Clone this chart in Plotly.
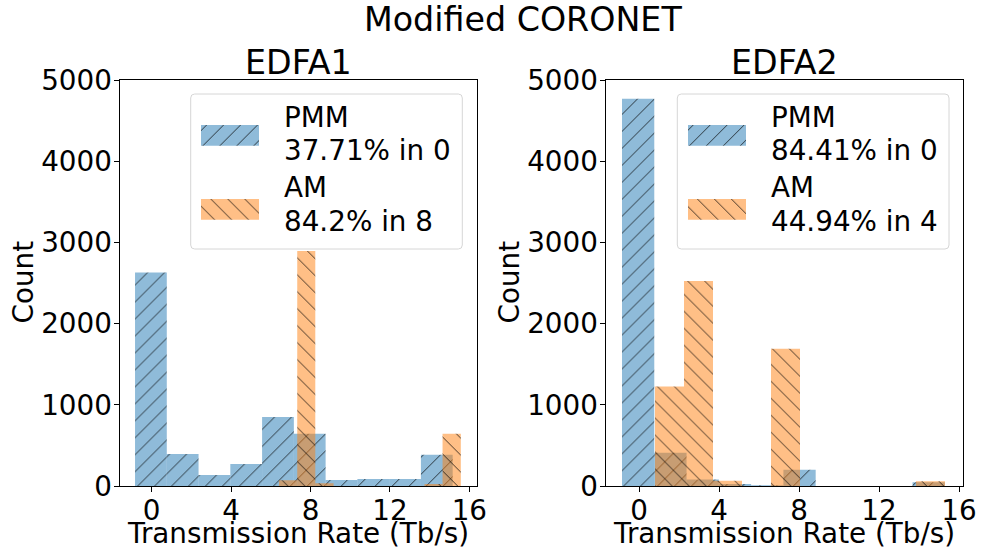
import plotly.graph_objects as go

# ---- data: histogram bin edges and counts per panel ----
edfa1_pmm_edges = [-0.84, 0.76, 2.36, 3.96, 5.56, 7.16, 8.76, 10.36, 11.96, 13.56, 15.16]
edfa1_pmm_counts = [2630, 395, 135, 270, 850, 645, 75, 85, 85, 385]
edfa1_am_edges = [6.41, 7.33, 8.24, 9.16, 10.07, 10.99, 11.91, 12.82, 13.74, 14.65, 15.57]
edfa1_am_counts = [70, 4770, 35, 0, 0, 0, 0, 0, 25, 645]

edfa2_pmm_edges = [-0.85, 0.764, 2.378, 3.992, 5.606, 7.22, 8.834, 10.448, 12.062, 13.676, 15.29]
edfa2_pmm_counts = [4770, 410, 80, 25, 10, 200, 0, 0, 0, 45]
edfa2_am_edges = [0.8, 2.25, 3.7, 5.15, 6.6, 8.05, 9.5, 10.95, 12.4, 13.85, 15.3]
edfa2_am_counts = [1225, 2525, 65, 0, 1690, 0, 0, 0, 0, 60]

panel_titles = ["EDFA1", "EDFA2"]
legend_labels = [
    [("PMM", "37.71% in 0"), ("AM", "84.2% in 8")],
    [("PMM", "84.41% in 0"), ("AM", "44.94% in 4")],
]
x_ticks = [0, 4, 8, 12, 16]
y_ticks = [0, 1000, 2000, 3000, 4000, 5000]
suptitle = "Modified CORONET"
x_label = "Transmission Rate (Tb/s)"
y_label = "Count"

# ---- styling ----
W, H = 981, 554
FONT = "DejaVu Sans"
FS = 27.8
TITLE_FS = 33.3
BLUE = "rgba(31,119,180,0.5)"
ORANGE = "rgba(255,127,14,0.5)"
HATCH_SIZE = 12
HATCH_SOLIDITY = 0.08


def px(x):
    return x / W


def py(y):
    return 1 - y / H


def hatch(color, shape):
    return dict(color=color, line=dict(width=0),
                pattern=dict(shape=shape, size=HATCH_SIZE, solidity=HATCH_SOLIDITY,
                             fgcolor="black", fgopacity=0.75, bgcolor=color,
                             fillmode="replace"))


def hist_bar(edges, counts, color, shape, xa, ya):
    centers = [(a + b) / 2 for a, b in zip(edges[:-1], edges[1:])]
    widths = [b - a for a, b in zip(edges[:-1], edges[1:])]
    return go.Bar(x=centers, y=counts, width=widths, xaxis=xa, yaxis=ya,
                  showlegend=False, hoverinfo="skip", marker=hatch(color, shape))


fig = go.Figure()
fig.add_trace(hist_bar(edfa1_pmm_edges, edfa1_pmm_counts, BLUE, "/", "x", "y"))
fig.add_trace(hist_bar(edfa1_am_edges, edfa1_am_counts, ORANGE, "\\", "x", "y"))
fig.add_trace(hist_bar(edfa2_pmm_edges, edfa2_pmm_counts, BLUE, "/", "x2", "y2"))
fig.add_trace(hist_bar(edfa2_am_edges, edfa2_am_counts, ORANGE, "\\", "x2", "y2"))

# axes frames (pixel geometry of each panel)
panels = [
    dict(left=119.5, right=476.5, xrange=[-1.622, 16.36]),
    dict(left=605.5, right=962.5, xrange=[-1.675, 16.175]),
]
top, bottom = 80, 486
axis_common = dict(showline=True, linecolor="black", linewidth=1, mirror=True,
                   ticks="outside", ticklen=5, tickwidth=1, tickcolor="black",
                   showgrid=False, zeroline=False, automargin=False,
                   tickfont=dict(family=FONT, size=FS, color="black"))
layout = dict(
    width=W, height=H, autosize=False,
    margin=dict(l=0, r=0, t=0, b=0, pad=0, autoexpand=False),
    plot_bgcolor="white", paper_bgcolor="white", barmode="overlay",
    showlegend=False, font=dict(family=FONT, color="black"),
)
for i, p in enumerate(panels):
    sx = "" if i == 0 else str(i + 1)
    layout["xaxis" + sx] = dict(axis_common, domain=[px(p["left"]), px(p["right"])],
                                range=p["xrange"], tickvals=x_ticks, anchor="y" + sx,
                                ticklabelstandoff=-5)
    layout["yaxis" + sx] = dict(axis_common, domain=[py(bottom), py(top)],
                                range=[0, 5002], tickvals=y_ticks, anchor="x" + sx,
                                ticklabelstandoff=-4)

annotations = []
shapes = []


def text(x, y, s, size=FS, xanchor="center", angle=0):
    annotations.append(dict(x=px(x), y=py(y), xref="paper", yref="paper", text=s,
                            showarrow=False, xanchor=xanchor, yanchor="middle",
                            textangle=angle, font=dict(family=FONT, size=size, color="black")))


text(523, 20, suptitle, size=TITLE_FS)
for i, p in enumerate(panels):
    cx = (p["left"] + p["right"]) / 2
    text(cx, 62, panel_titles[i], size=TITLE_FS)
    text(cx, 533, x_label)
    text(p["left"] - 97, 282, y_label, angle=-90)

# legend boxes drawn on their own small overlay axes (1 unit = 1 px)
legend_boxes = [
    dict(x0=190.7, x1=462.3, hx=201, text_x=282.3),
    dict(x0=677.3, x1=949.0, hx=688, text_x=769.0),
]
box_top, box_bottom = 94, 249
pad = 2
handle_w, handle_h = 58, 20.7
handle_tops = [125, 199]
line_centers = [(117, 150), (187.5, 221.5)]
for i, b in enumerate(legend_boxes):
    n = str(i + 3)
    bw = b["x1"] - b["x0"] + 2 * pad
    bh = box_bottom - box_top + 2 * pad
    layout["xaxis" + n] = dict(domain=[px(b["x0"] - pad), px(b["x1"] + pad)], range=[0, bw],
                               visible=False, fixedrange=True, automargin=False,
                               anchor="y" + n)
    layout["yaxis" + n] = dict(domain=[py(box_bottom + pad), py(box_top - pad)], range=[0, bh],
                               visible=False, fixedrange=True, automargin=False,
                               anchor="x" + n)
    x0, x1, y0, y1, r = pad, bw - pad, pad, bh - pad, 4
    path = (f"M{x0 + r},{y0} L{x1 - r},{y0} Q{x1},{y0} {x1},{y0 + r} L{x1},{y1 - r} "
            f"Q{x1},{y1} {x1 - r},{y1} L{x0 + r},{y1} Q{x0},{y1} {x0},{y1 - r} "
            f"L{x0},{y0 + r} Q{x0},{y0} {x0 + r},{y0} Z")
    shapes.append(dict(type="path", path=path, xref="x" + n, yref="y" + n, layer="below",
                       fillcolor="rgba(255,255,255,0.8)", line=dict(color="#d6d6d6", width=1)))
    for j, (color, shape) in enumerate([(BLUE, "/"), (ORANGE, "\\")]):
        hb = (box_bottom + pad) - (handle_tops[j] + handle_h)
        fig.add_trace(go.Bar(
            x=[b["hx"] - b["x0"] + pad + handle_w / 2], y=[handle_h], base=[hb],
            width=[handle_w], xaxis="x" + n, yaxis="y" + n,
            showlegend=False, hoverinfo="skip", marker=hatch(color, shape)))
        name, stat = legend_labels[i][j]
        text(b["text_x"], line_centers[j][0], name, xanchor="left")
        text(b["text_x"], line_centers[j][1], stat, xanchor="left")

layout["annotations"] = annotations
layout["shapes"] = shapes
fig.update_layout(**layout)
fig.write_html("out.html", config={"displayModeBar": False})
